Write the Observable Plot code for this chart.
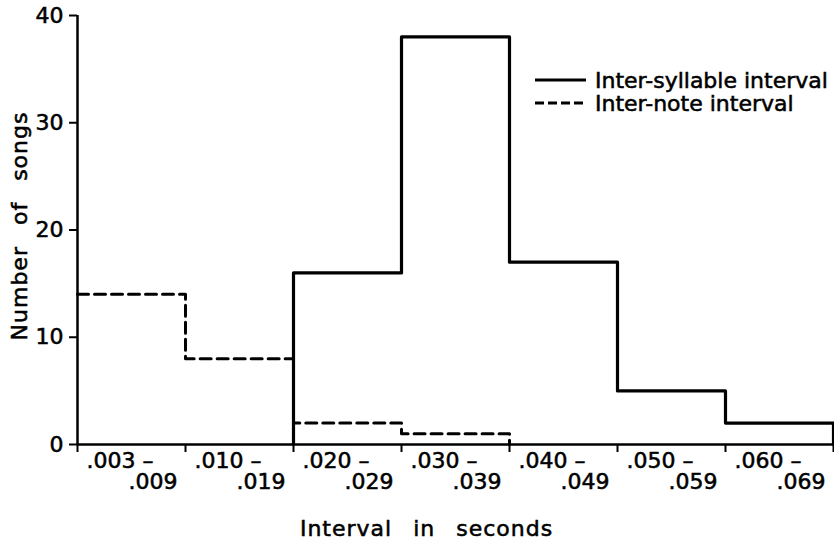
<!DOCTYPE html>
<html>
<head>
<meta charset="utf-8">
<script src="https://cdn.jsdelivr.net/npm/d3@7"></script>
<script src="https://cdn.jsdelivr.net/npm/@observablehq/plot@0.6"></script>
<style>
  html, body { margin: 0; padding: 0; background: #fff; }
  #chart svg { display: block; font-family: "DejaVu Sans", sans-serif; }
  #chart svg text { stroke: black; stroke-width: 0.55px; }
</style>
</head>
<body>
<div id="chart"></div>
<script>
// ---- data ----
const binStarts = [".003", ".010", ".020", ".030", ".040", ".050", ".060"];
const binEnds   = [".009", ".019", ".029", ".039", ".049", ".059", ".069"];
const interSyllable = [0, 0, 16, 38, 17, 5, 2];
const interNote     = [14, 8, 2, 1, 0, 0, 0];
const yTicks = [0, 10, 20, 30, 40];
const seriesNames = ["Inter-syllable interval", "Inter-note interval"];
const xTitle = "Interval in seconds";
const yTitle = "Number of songs";

// build histogram outline points (step-after) from the counts
function stepPoints(counts) {
  const idx = counts.map((v, i) => v > 0 ? i : -1).filter(i => i >= 0);
  const first = idx[0], last = idx[idx.length - 1];
  const pts = [];
  if (first > 0) pts.push({x: first, y: 0});
  for (let i = first; i <= last; i++) pts.push({x: i, y: counts[i]});
  pts.push({x: last + 1, y: 0});
  return pts;
}
const sylPts = stepPoints(interSyllable);
const notePts = stepPoints(interNote);

const startLabels = binStarts.map((t, i) => ({i, t: t + " \u2013"}));
const endLabels = binEnds.map((t, i) => ({i: i + 1, t}));

// legend drawn in pixel space relative to the frame
function legendMark(index, scales, values, dims) {
  const g = d3.create("svg:g");
  const x0 = dims.width - 299, y0 = dims.marginTop + 65, gap = 23;
  seriesNames.forEach((name, k) => {
    const y = y0 + k * gap;
    g.append("line")
      .attr("x1", x0).attr("x2", x0 + 51).attr("y1", y).attr("y2", y)
      .attr("stroke", "black").attr("stroke-width", 3)
      .attr("stroke-dasharray", k === 1 ? "9,4" : null);
    g.append("text")
      .attr("x", x0 + 60).attr("y", y).attr("dy", "0.35em")
      .attr("text-anchor", "start")
      .attr("font-size", 22).attr("fill", "black")
      .text(name);
  });
  return g.node();
}

const chart = Plot.plot({
  width: 834,
  height: 548,
  marginLeft: 77,
  marginRight: 1,
  marginTop: 15,
  marginBottom: 104,
  style: {fontFamily: "DejaVu Sans, sans-serif", color: "black", background: "white", overflow: "visible"},
  x: {domain: [0, 7], axis: null},
  y: {domain: [0, 40], axis: null},
  marks: [
    Plot.axisY({ticks: yTicks, tickSize: 8, tickPadding: 6, fontSize: 22, label: null, strokeWidth: 2}),
    Plot.axisX({ticks: d3.range(8), tickSize: 8, tickFormat: () => "", label: null, strokeWidth: 2}),
    Plot.ruleX([0], {stroke: "black", strokeWidth: 2.5}),
    Plot.ruleY([0], {stroke: "black", strokeWidth: 2.5}),
    Plot.line(notePts, {x: "x", y: "y", curve: "step-after", stroke: "black", strokeWidth: 3, strokeDasharray: "11,6"}),
    Plot.line(sylPts, {x: "x", y: "y", curve: "step-after", stroke: "black", strokeWidth: 3.2}),
    Plot.text(startLabels, {x: "i", text: "t", frameAnchor: "bottom", dx: 9, dy: 23, textAnchor: "start", fontSize: 22, fill: "black"}),
    Plot.text(endLabels, {x: "i", text: "t", frameAnchor: "bottom", dx: -8, dy: 44, textAnchor: "end", fontSize: 22, fill: "black"}),
    Plot.text([xTitle], {frameAnchor: "bottom", dx: -29, dy: 91, textAnchor: "middle", fontSize: 22, fill: "black"}),
    Plot.text([yTitle], {frameAnchor: "left", dx: -58, dy: -4, rotate: -90, textAnchor: "middle", fontSize: 22, fill: "black"}),
    legendMark
  ]
});

d3.select(chart).selectAll("text")
  .filter(function() { return this.textContent === xTitle || this.textContent === yTitle; })
  .attr("letter-spacing", "1px").attr("word-spacing", "13px");

document.getElementById("chart").appendChild(chart);
</script>
</body>
</html>
